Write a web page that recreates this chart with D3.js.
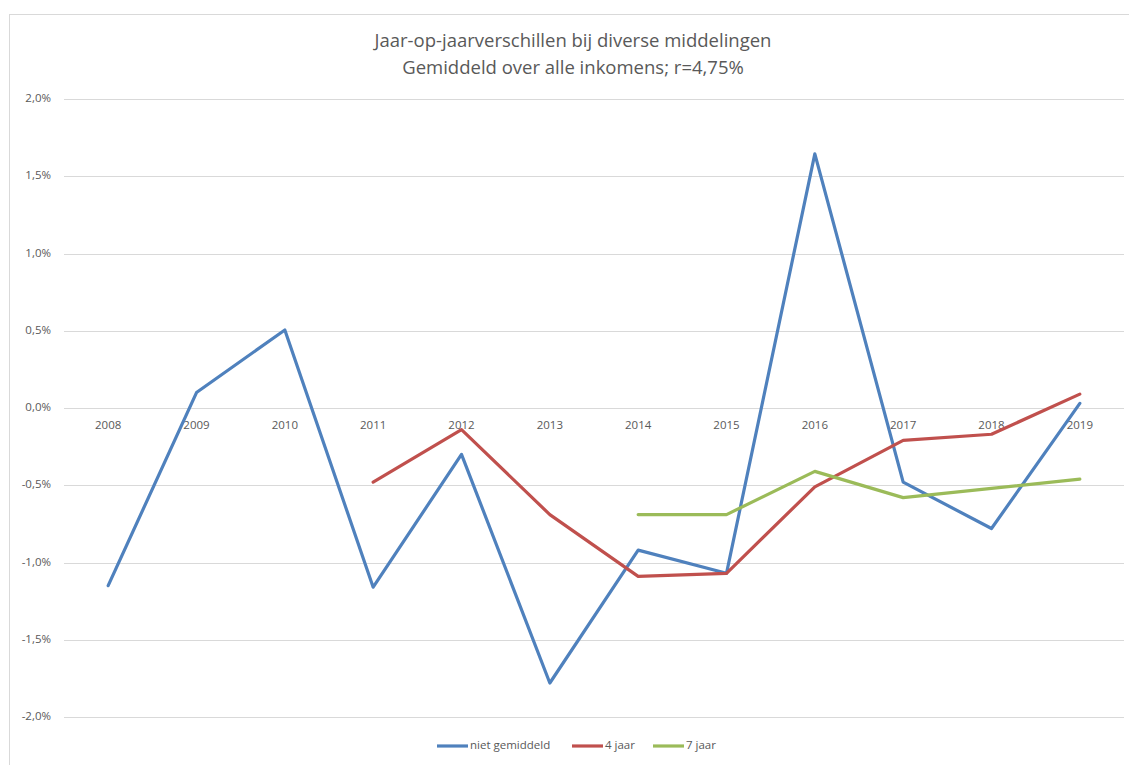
<!DOCTYPE html>
<html>
<head>
<meta charset="utf-8">
<script src="https://cdn.jsdelivr.net/npm/d3@7"></script>
<style>
  body { margin: 0; background: #fff; }
  svg { display: block; }
  text { font-family: "Open Sans", "Liberation Sans", sans-serif; fill: #595959; }
</style>
</head>
<body>
<div id="chart-container"></div>
<script>
// data
const years = ["2008", "2009", "2010", "2011", "2012", "2013", "2014", "2015", "2016", "2017", "2018", "2019"];
const nietGemiddeld = [-1.15, 0.10, 0.505, -1.16, -0.30, -1.78, -0.92, -1.07, 1.645, -0.48, -0.78, 0.03];
const vierJaar = [null, null, null, -0.48, -0.14, -0.69, -1.09, -1.07, -0.51, -0.21, -0.17, 0.09];
const zevenJaar = [null, null, null, null, null, null, -0.69, -0.69, -0.41, -0.58, -0.52, -0.46];
const yTicks = [-2.0, -1.5, -1.0, -0.5, 0.0, 0.5, 1.0, 1.5, 2.0];

const series = [
  { name: "niet gemiddeld", values: nietGemiddeld, color: "#4f81bd" },
  { name: "4 jaar", values: vierJaar, color: "#c0504d" },
  { name: "7 jaar", values: zevenJaar, color: "#9bbb59" },
];

const width = 1129, height = 765;
const margin = { top: 99, right: 5, bottom: 48, left: 64 };

const svg = d3.select("#chart-container")
  .append("svg")
  .attr("width", width)
  .attr("height", height);

// kader van de grafiek
svg.append("rect")
  .attr("x", 9.5).attr("y", 14.5)
  .attr("width", 1140).attr("height", 780)
  .attr("fill", "none")
  .attr("stroke", "#d9d9d9");

// schalen
const xScale = d3.scaleBand()
  .domain(years)
  .range([margin.left, width - margin.right]);

const yScale = d3.scaleLinear()
  .domain([-2, 2])
  .range([height - margin.bottom, margin.top]);

const fmt = (v) => v.toFixed(1).replace(".", ",") + "%";

// rasterlijnen
svg.append("g")
  .selectAll("line")
  .data(yTicks)
  .enter()
  .append("line")
  .attr("x1", margin.left)
  .attr("x2", width - margin.right)
  .attr("y1", (d) => Math.round(yScale(d)) + 0.5)
  .attr("y2", (d) => Math.round(yScale(d)) + 0.5)
  .attr("stroke", "#d9d9d9")
  .attr("stroke-width", 1);

// y labels
svg.append("g")
  .selectAll("text")
  .data(yTicks)
  .enter()
  .append("text")
  .attr("x", 51)
  .attr("y", (d) => yScale(d))
  .attr("text-anchor", "end")
  .attr("dominant-baseline", "middle")
  .style("font-size", "11.5px")
  .text(fmt);

// categorie labels (onder de nullijn)
svg.append("g")
  .selectAll("text")
  .data(years)
  .enter()
  .append("text")
  .attr("x", (d) => xScale(d) + xScale.bandwidth() / 2)
  .attr("y", yScale(0) + 18)
  .attr("text-anchor", "middle")
  .attr("dominant-baseline", "middle")
  .style("font-size", "11.5px")
  .text((d) => d);

// lijnen
const line = d3.line()
  .defined((d) => d != null)
  .x((d, i) => xScale(years[i]) + xScale.bandwidth() / 2)
  .y((d) => yScale(d));

series.forEach((s) => {
  svg.append("path")
    .datum(s.values)
    .attr("d", line)
    .attr("fill", "none")
    .attr("stroke", s.color)
    .attr("stroke-width", 3.2)
    .attr("stroke-linejoin", "round")
    .attr("stroke-linecap", "round");
});

// titel
svg.append("text")
  .attr("x", 573).attr("y", 42)
  .attr("text-anchor", "middle")
  .attr("dominant-baseline", "middle")
  .style("font-size", "18.5px")
  .text("Jaar-op-jaarverschillen bij diverse middelingen");
svg.append("text")
  .attr("x", 573).attr("y", 69)
  .attr("text-anchor", "middle")
  .attr("dominant-baseline", "middle")
  .style("font-size", "18.5px")
  .text("Gemiddeld over alle inkomens; r=4,75%");

// legenda
const legendX = [437, 572, 653];
const legend = svg.append("g");
series.forEach((s, i) => {
  legend.append("line")
    .attr("x1", legendX[i]).attr("x2", legendX[i] + 31)
    .attr("y1", 746).attr("y2", 746)
    .attr("stroke", s.color)
    .attr("stroke-width", 3.2);
  legend.append("text")
    .attr("x", legendX[i] + 33)
    .attr("y", 746)
    .attr("dominant-baseline", "middle")
    .style("font-size", "11.5px")
    .text(s.name);
});
</script>
</body>
</html>
